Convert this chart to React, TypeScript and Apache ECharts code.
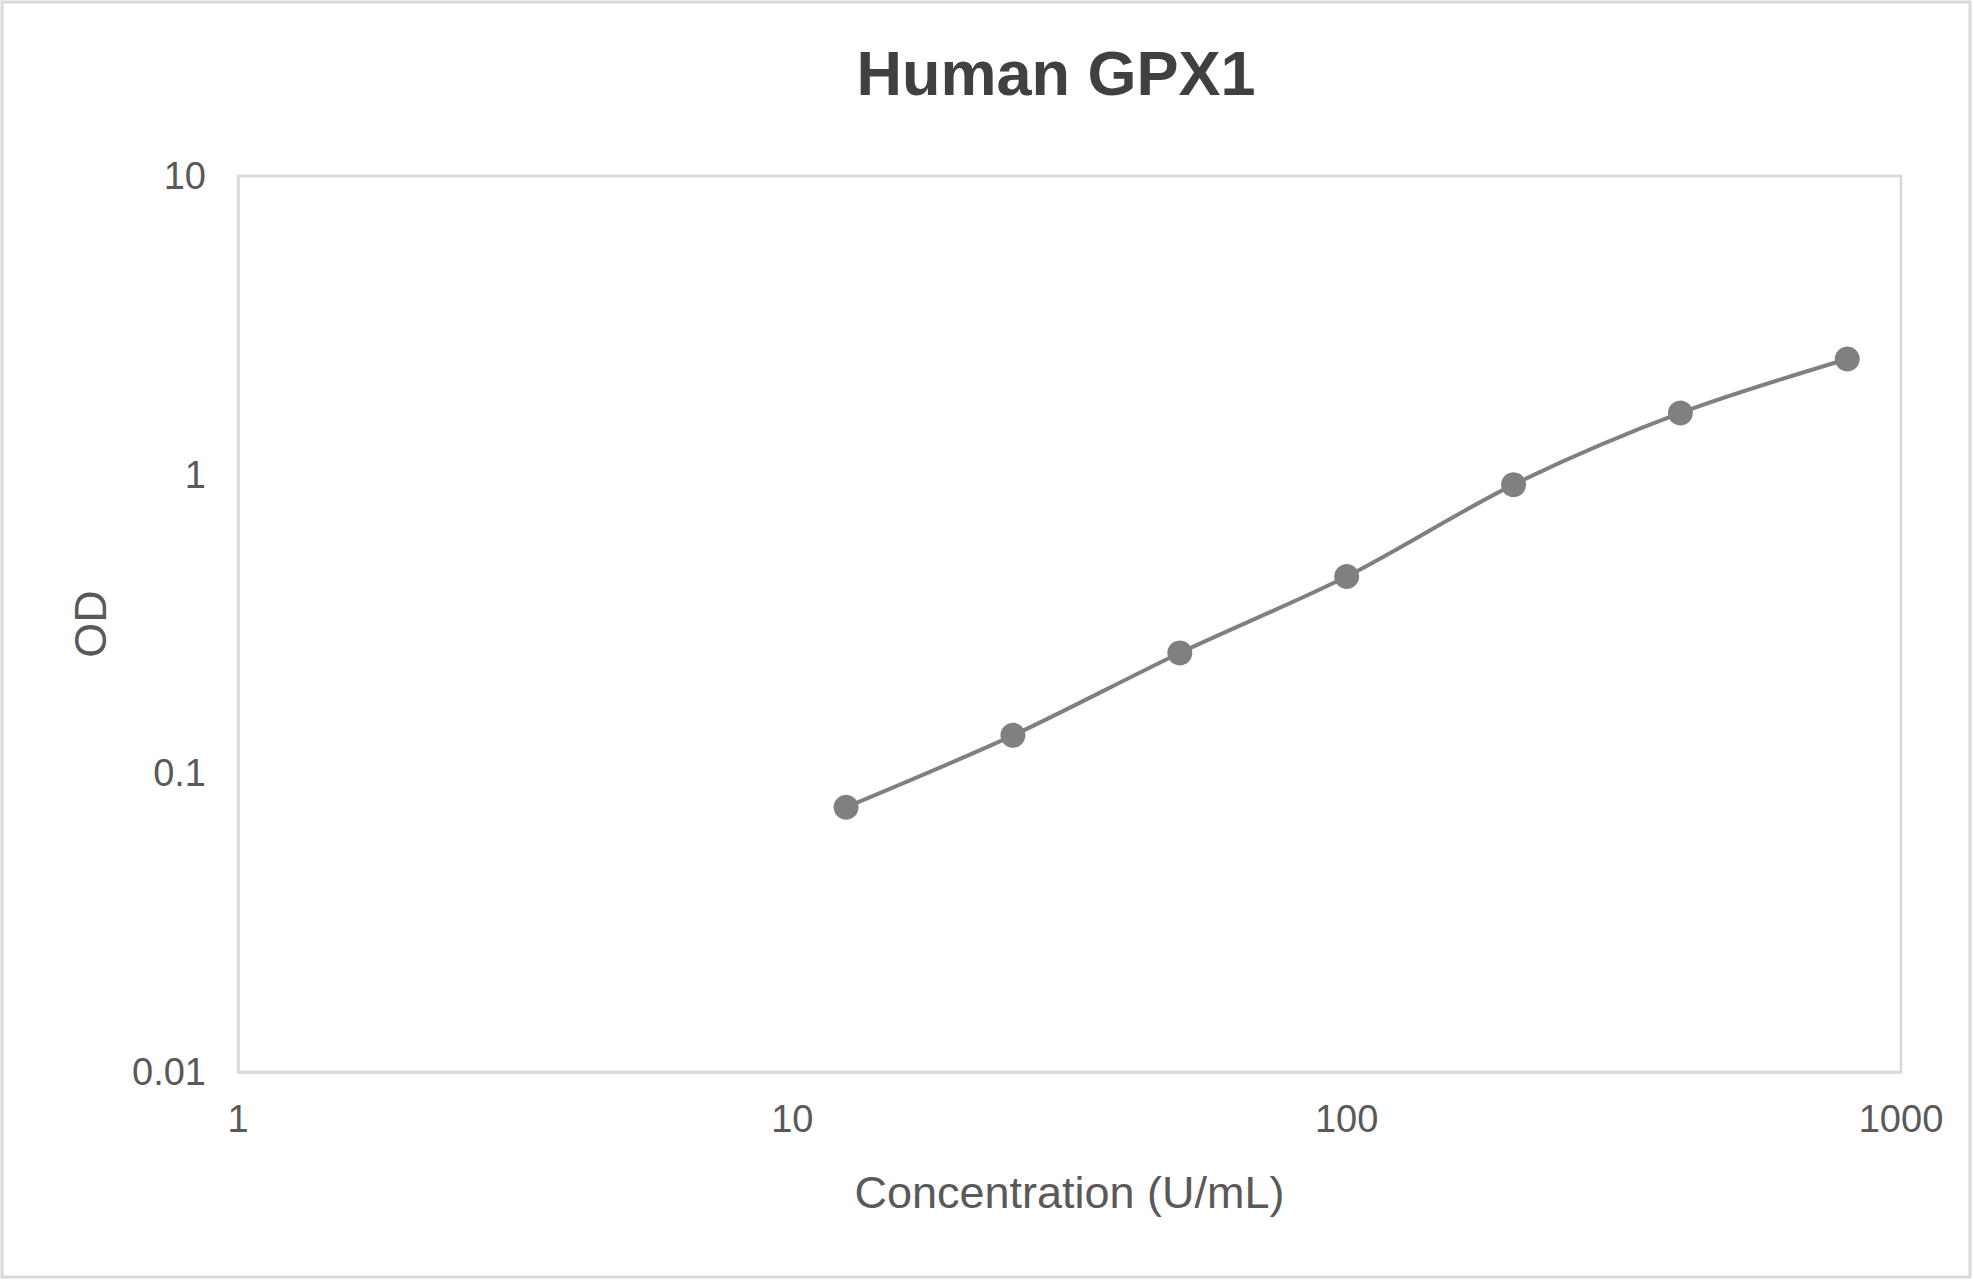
import React, { useEffect, useRef } from "react";
import * as echarts from "echarts";

const concentrations = [12.5, 25, 50, 100, 200, 400, 800];
const odValues = [0.077, 0.134, 0.253, 0.456, 0.926, 1.609, 2.44];
const titleText = "Human GPX1";
const xName = "Concentration (U/mL)";
const yName = "OD";

export default function App() {
  const ref = useRef<HTMLDivElement>(null);
  useEffect(() => {
    if (!ref.current) return;
    const chart = echarts.init(ref.current, undefined, { renderer: "svg" });
    const font = "'Liberation Sans', Arial, sans-serif";
    const fmt = (v: number) => String(Number(v.toPrecision(6)));
    chart.setOption({
      animation: false,
      backgroundColor: "#ffffff",
      title: {
        text: titleText,
        left: 1056,
        top: 41,
        padding: 0,
        textAlign: "center",
        textStyle: { fontFamily: font, fontSize: 63, fontWeight: "bold", color: "#404040" },
      },
      graphic: [
        {
          type: "rect",
          shape: { x: 2, y: 2, width: 1968, height: 1275 },
          style: { fill: "none", stroke: "#d9d9d9", lineWidth: 3 },
          silent: true,
        },
      ],
      grid: {
        left: 238,
        top: 176,
        right: 72,
        bottom: 208,
        show: true,
        borderColor: "#d9d9d9",
        borderWidth: 2.5,
        containLabel: false,
      },
      xAxis: {
        type: "log",
        logBase: 10,
        min: 1,
        max: 1000,
        name: xName,
        nameLocation: "middle",
        nameGap: 98,
        nameTextStyle: { fontFamily: font, fontSize: 45, color: "#595959" },
        axisLine: { show: true, lineStyle: { color: "#d9d9d9", width: 2.5 } },
        axisTick: { show: false },
        splitLine: { show: false },
        minorTick: { show: false },
        axisLabel: { fontFamily: font, fontSize: 38, color: "#595959", margin: 28, formatter: fmt },
      },
      yAxis: {
        type: "log",
        logBase: 10,
        min: 0.01,
        max: 10,
        name: yName,
        nameLocation: "middle",
        nameGap: 125,
        nameTextStyle: { fontFamily: font, fontSize: 45, color: "#595959" },
        axisLine: { show: true, lineStyle: { color: "#d9d9d9", width: 2.5 } },
        axisTick: { show: false },
        splitLine: { show: false },
        axisLabel: { fontFamily: font, fontSize: 38, color: "#595959", margin: 32, formatter: fmt },
      },
      series: [
        {
          type: "line",
          data: concentrations.map((c, i) => [c, odValues[i]]),
          smooth: 0.3,
          symbol: "circle",
          symbolSize: 25,
          itemStyle: { color: "#808080" },
          lineStyle: { color: "#808080", width: 4 },
        },
      ],
    });
    return () => chart.dispose();
  }, []);
  return (
    <div
      ref={ref}
      style={{ position: "absolute", left: 0, top: 0, width: 1973, height: 1280 }}
    />
  );
}
